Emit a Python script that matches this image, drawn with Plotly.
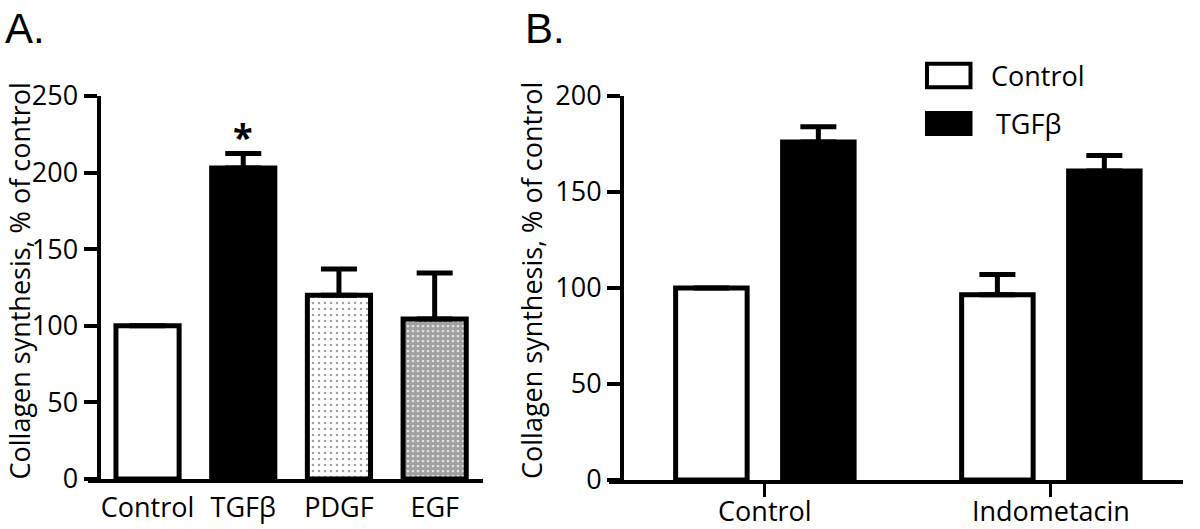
import plotly.graph_objects as go

W, H = 1200, 529
FONT = "Open Sans"

# ---- data ----
a_categories = ["Control", "TGFβ", "PDGF", "EGF"]
a_values = [100, 203, 120, 104.5]
a_err = [0, 9.5, 17, 30]

b_categories = ["Control", "Indometacin"]
b_control = [100, 96.5]
b_control_err = [0, 10.5]
b_tgf = [176, 161]
b_tgf_err = [8, 8]

y_title = "Collagen synthesis, % of control"


def px(x):
    return x / W


def py(y):
    return 1 - y / H


fig = go.Figure()

# Panel A bars
fig.add_trace(go.Bar(
    x=a_categories, y=a_values, xaxis="x", yaxis="y",
    width=0.66,
    marker=dict(
        color=["white", "black", "white", "white"],
        line=dict(color="black", width=5),
        pattern=dict(
            shape=["", "", ".", "."],
            fgcolor="black",
            bgcolor="white",
            size=[6, 6, 6, 5],
            solidity=[0.2, 0.2, 0.15, 0.8],
            fillmode="overlay",
        ),
    ),
    error_y=dict(type="data", symmetric=False, array=a_err,
                 arrayminus=[0] * len(a_err), color="black",
                 thickness=5, width=18),
    showlegend=False,
))

# Panel B bars
fig.add_trace(go.Bar(
    x=b_categories, y=b_control, xaxis="x2", yaxis="y2", name="Control",
    width=0.25, offset=-0.312,
    marker=dict(color="white", line=dict(color="black", width=5)),
    error_y=dict(type="data", symmetric=False, array=b_control_err,
                 arrayminus=[0, 0], color="black", thickness=5, width=18),
    showlegend=False,
))
fig.add_trace(go.Bar(
    x=b_categories, y=b_tgf, xaxis="x2", yaxis="y2", name="TGFβ",
    width=0.25, offset=0.062,
    marker=dict(color="black", line=dict(color="black", width=5)),
    error_y=dict(type="data", symmetric=False, array=b_tgf_err,
                 arrayminus=[0, 0], color="black", thickness=5, width=18),
    showlegend=False,
))

tickfont = dict(family=FONT, size=27, color="black")

fig.update_layout(
    width=W, height=H,
    margin=dict(l=0, r=0, t=0, b=0, autoexpand=False),
    paper_bgcolor="white", plot_bgcolor="white",
    barmode="overlay",
    showlegend=False,
    font=dict(family=FONT, color="black"),
    xaxis=dict(domain=[px(88), px(483)], anchor="y", type="category",
               range=[-0.622, 3.505], showline=True, linecolor="black",
               linewidth=4, ticks="", showgrid=False, tickfont=tickfont,
               zeroline=False, automargin=False, ticklabelstandoff=2),
    yaxis=dict(domain=[py(479), py(96)], anchor="free", position=px(98.5),
               range=[0, 250], tickvals=[0, 50, 100, 150, 200, 250],
               showline=True, linecolor="black", linewidth=4,
               ticks="outside", ticklen=13, tickwidth=4, tickcolor="black",
               showgrid=False, zeroline=False, tickfont=tickfont,
               ticklabelstandoff=0, automargin=False),
    xaxis2=dict(domain=[px(609), px(1183)], anchor="y2", type="category",
                range=[-0.545, 1.462], showline=True, linecolor="black",
                linewidth=4, ticks="outside", ticklen=13, tickwidth=3,
                tickcolor="black", showgrid=False, tickfont=tickfont,
                zeroline=False, automargin=False, ticklabelstandoff=-8),
    yaxis2=dict(domain=[py(480), py(96)], anchor="free", position=px(622),
                range=[0, 200], tickvals=[0, 50, 100, 150, 200],
                showline=True, linecolor="black", linewidth=4,
                ticks="outside", ticklen=13, tickwidth=4, tickcolor="black",
                showgrid=False, zeroline=False, tickfont=tickfont,
                ticklabelstandoff=0, automargin=False),
)

panel_font = dict(family="Liberation Sans", size=42, color="black")
annotations = [
    dict(text="A.", x=px(4), y=py(4), xref="paper", yref="paper",
         xanchor="left", yanchor="top", showarrow=False, borderpad=0,
         font=panel_font),
    dict(text="B.", x=px(524), y=py(4), xref="paper", yref="paper",
         xanchor="left", yanchor="top", showarrow=False, borderpad=0,
         font=panel_font),
    dict(text=y_title, x=px(18.5), y=py(281), xref="paper", yref="paper",
         xanchor="center", yanchor="middle",
         textangle=-90, showarrow=False,
         font=dict(family=FONT, size=27, color="black")),
    dict(text=y_title, x=px(531), y=py(281), xref="paper", yref="paper",
         xanchor="center", yanchor="middle",
         textangle=-90, showarrow=False,
         font=dict(family=FONT, size=27, color="black")),
    dict(text="<b>*</b>", x=a_categories[1], y=a_values[1] + a_err[1],
         xref="x", yref="y", yanchor="bottom", yshift=-10, showarrow=False,
         font=dict(family=FONT, size=36, color="black")),
    dict(text="Control", x=px(989), y=py(75.5), xref="paper", yref="paper",
         xanchor="left", yanchor="middle", showarrow=False,
         font=dict(family=FONT, size=27, color="black")),
    dict(text="TGFβ", x=px(994), y=py(123), xref="paper", yref="paper",
         xanchor="left", yanchor="middle", showarrow=False,
         font=dict(family=FONT, size=27, color="black")),
]
fig.update_layout(annotations=annotations)

shapes = [
    dict(type="rect", xref="paper", yref="paper", x0=px(927), x1=px(970.5),
         y0=py(63.7), y1=py(87.3), fillcolor="white",
         line=dict(color="black", width=4)),
    dict(type="rect", xref="paper", yref="paper", x0=px(925), x1=px(972.5),
         y0=py(111), y1=py(136), fillcolor="black",
         line=dict(color="black", width=0)),
]
fig.update_layout(shapes=shapes)

# remove the browser's default 8px body margin so the figure fills the window
fig.write_html("out.html",
               config={"displayModeBar": False},
               post_script="document.body.style.margin='0';")
